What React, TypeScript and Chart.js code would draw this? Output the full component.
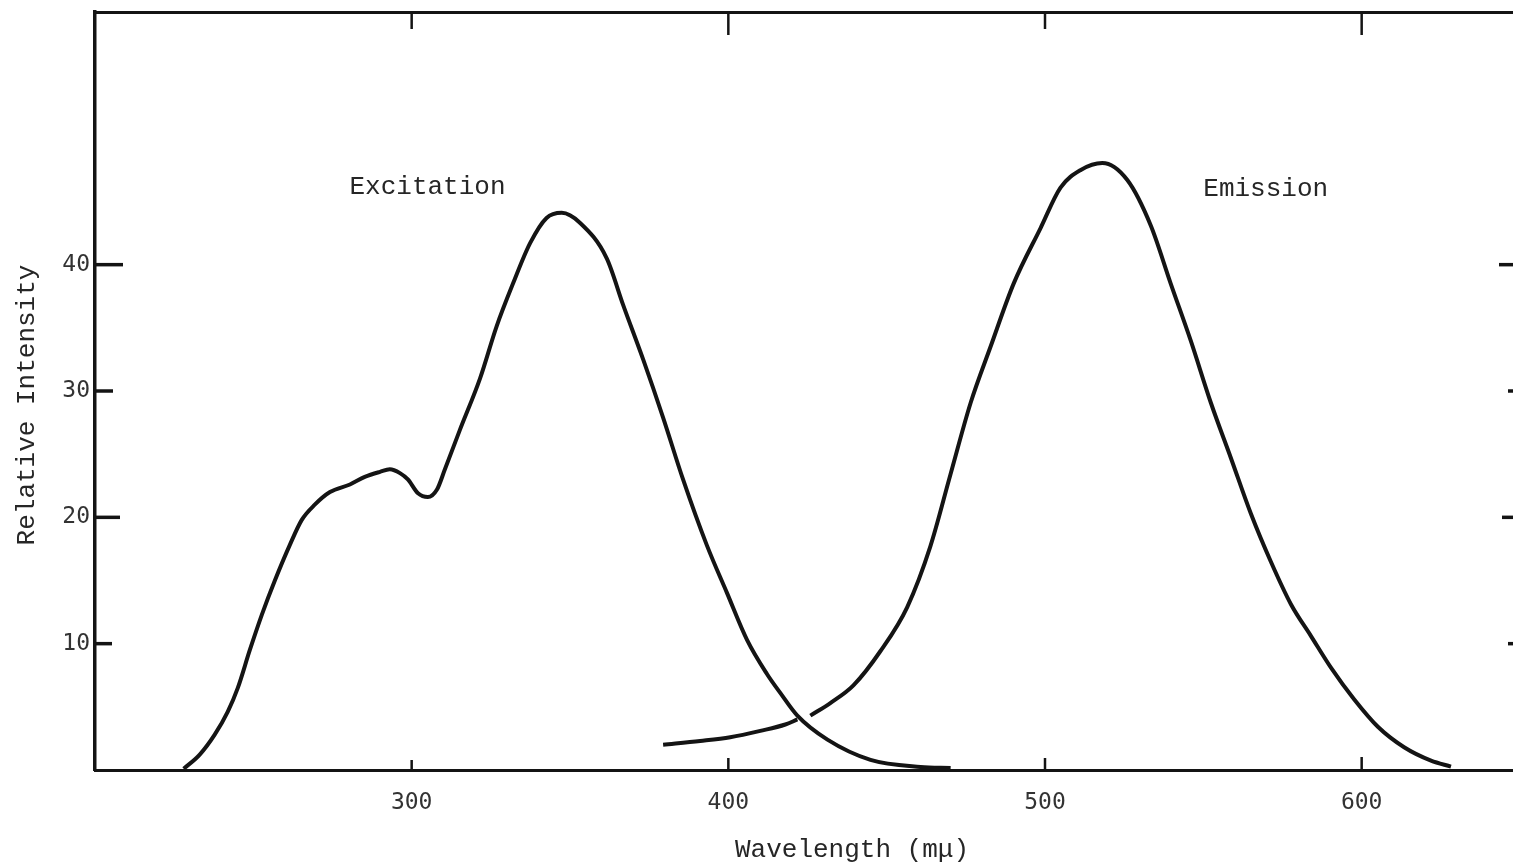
import React, { useEffect, useRef } from "react";
import { Chart, registerables } from "chart.js";

Chart.register(...registerables);

// ---- data ----
const excitationWavelengths = [
  228, 233, 237.8, 241.9, 245.1, 248.9, 252.7, 256.8, 261.5, 265.3, 269.4, 274.2,
  280.5, 285.2, 290, 293.1, 296.3, 298.8, 302, 305.1, 308, 310.5, 315.2, 321.6,
  326.8, 332, 337.4, 342.6, 347.4, 353.2, 361.6, 366.8, 373.1, 379.4, 385.7, 393.2,
  399.6, 405.9, 412.2, 416.4, 421.8, 431.3, 444.9, 460.7, 470.2,
];
const excitationIntensities = [
  0.1, 1.2, 2.8, 4.6, 6.5, 9.5, 12.3, 15.0, 17.8, 19.8, 21.0, 22.0,
  22.6, 23.2, 23.6, 23.8, 23.5, 23.0, 21.9, 21.6, 22.2, 23.8, 26.9, 31.0,
  35.1, 38.5, 41.7, 43.7, 44.1, 43.3, 40.5, 36.8, 32.5, 27.9, 23.0, 17.8,
  14.0, 10.3, 7.6, 6.1, 4.3, 2.4, 0.8, 0.24, 0.16,
];

// the emission trace is drawn in two strokes; the null marks the pen lift
const emissionWavelengths = [
  379.4, 391.1, 400.6, 410.1, 418.0, 421.8,
  423.8,
  425.9, 432.2, 439.5, 448.0, 456.5, 463.8, 470.1, 476.5, 482.8, 490.1, 498.6,
  504.9, 511.3, 518.1, 526.0, 533.4, 539.7, 546.0, 552.4, 558.7, 565.0, 571.3,
  577.7, 584.0, 590.3, 597.6, 605.2, 613.4, 621.9, 628.2,
];
const emissionIntensities: (number | null)[] = [
  2.0, 2.3, 2.6, 3.1, 3.6, 4.0,
  null,
  4.3, 5.3, 6.7, 9.4, 12.9, 17.7, 23.35, 29.05, 33.5, 38.5, 42.9,
  46.1, 47.5, 48.05, 46.7, 43.1, 38.5, 34.0, 29.05, 24.7, 20.3, 16.5,
  13.1, 10.6, 8.1, 5.6, 3.4, 1.8, 0.74, 0.27,
];

const xTickValues = [300, 400, 500, 600];
const yTickValues = [10, 20, 30, 40];
const seriesLabels = ["Excitation", "Emission"];
const xAxisTitle = "Wavelength (mμ)";
const yAxisTitle = "Relative Intensity";

// ---- styling ----
const INK = "#141414";
const TEXT = "#262626";
const LABEL_FONT = "'Liberation Mono', 'DejaVu Sans Mono', monospace";
const TICK_FONT = "'DejaVu Sans Mono', monospace";

const leftTickLen = [17, 25, 18, 28];
const rightTickLen = [12, 18, 12, 21];
const topTickLen = [17, 23, 17, 23];
const bottomTickLen = [10, 12, 12, 13];

const zeroPad = (s: any) => {
  s.paddingTop = 0;
  s.paddingBottom = 0;
  s.paddingLeft = 0;
  s.paddingRight = 0;
};

const decorPlugin = {
  id: "decor",
  afterDraw(chart: any) {
    const { ctx, chartArea: a, scales } = chart;
    const xs = scales.x;
    const ys = scales.y;
    const line = (x1: number, y1: number, x2: number, y2: number, w: number) => {
      ctx.lineWidth = w;
      ctx.beginPath();
      ctx.moveTo(x1, y1);
      ctx.lineTo(x2, y2);
      ctx.stroke();
    };
    ctx.save();
    ctx.strokeStyle = INK;
    ctx.lineCap = "butt";
    yTickValues.forEach((v, i) => {
      const py = ys.getPixelForValue(v);
      line(a.left, py, a.left + leftTickLen[i], py, 3.5);
      line(a.right, py, a.right - rightTickLen[i], py, 3.5);
    });
    xTickValues.forEach((v, i) => {
      const px = xs.getPixelForValue(v);
      line(px, a.top, px, a.top + topTickLen[i], 2.5);
      line(px, a.bottom, px, a.bottom - bottomTickLen[i], 2.5);
    });

    ctx.fillStyle = TEXT;
    ctx.font = `26px ${LABEL_FONT}`;
    ctx.textAlign = "center";
    ctx.textBaseline = "middle";
    ctx.fillText(seriesLabels[0], xs.getPixelForValue(305), ys.getPixelForValue(46.1));
    ctx.fillText(seriesLabels[1], xs.getPixelForValue(569.7), ys.getPixelForValue(46.0));

    ctx.fillText(xAxisTitle, 852, 850);
    ctx.translate(27, 405);
    ctx.rotate(-Math.PI / 2);
    ctx.fillText(yAxisTitle, 0, 0);
    ctx.restore();
  },
};

export default function App() {
  const ref = useRef<HTMLCanvasElement>(null);

  useEffect(() => {
    const canvas = ref.current;
    if (!canvas) return;
    const chart = new Chart(canvas, {
      type: "line",
      data: {
        datasets: [
          {
            label: seriesLabels[0],
            data: excitationWavelengths.map((w, i) => ({ x: w, y: excitationIntensities[i] })),
            borderColor: INK,
            borderWidth: 4,
            pointRadius: 0,
            fill: false,
            cubicInterpolationMode: "monotone",
          },
          {
            label: seriesLabels[1],
            data: emissionWavelengths.map((w, i) => ({ x: w, y: emissionIntensities[i] })),
            borderColor: INK,
            borderWidth: 4,
            pointRadius: 0,
            fill: false,
            spanGaps: false,
            cubicInterpolationMode: "monotone",
          },
        ],
      } as any,
      options: {
        animation: false,
        responsive: false,
        devicePixelRatio: 1,
        layout: { padding: 0 },
        plugins: {
          legend: { display: false },
          tooltip: { enabled: false },
        },
        scales: {
          x: {
            type: "linear",
            position: "bottom",
            min: 200,
            max: 650,
            afterBuildTicks: (s: any) => {
              s.ticks = xTickValues.map((v) => ({ value: v }));
            },
            afterFit: (s: any) => {
              s.height = 95;
              zeroPad(s);
            },
            grid: { display: false, drawTicks: false },
            border: { display: true, width: 3, color: INK },
            ticks: {
              padding: 19,
              autoSkip: false,
              maxRotation: 0,
              color: "#333",
              font: { family: TICK_FONT, size: 23 },
            },
          },
          xTop: {
            type: "linear",
            position: "top",
            min: 200,
            max: 650,
            afterFit: (s: any) => {
              s.height = 12;
              zeroPad(s);
            },
            grid: { display: false, drawTicks: false },
            border: { display: true, width: 3, color: INK },
            ticks: { display: false },
          },
          y: {
            type: "linear",
            position: "left",
            min: 0,
            max: 60,
            afterBuildTicks: (s: any) => {
              s.ticks = yTickValues.map((v) => ({ value: v }));
            },
            afterFit: (s: any) => {
              s.width = 95;
              zeroPad(s);
            },
            grid: { display: false, drawTicks: false },
            border: { display: true, width: 3.5, color: INK },
            ticks: {
              padding: 5,
              color: "#333",
              font: { family: TICK_FONT, size: 23 },
            },
          },
          yRight: {
            type: "linear",
            position: "right",
            min: 0,
            max: 60,
            afterFit: (s: any) => {
              s.width = 2;
              zeroPad(s);
            },
            grid: { display: false, drawTicks: false },
            border: { display: true, width: 3, color: INK },
            ticks: { display: false },
          },
        },
      } as any,
      plugins: [decorPlugin],
    });
    return () => chart.destroy();
  }, []);

  return (
    <div
      style={{
        position: "fixed",
        left: 0,
        top: 0,
        width: 1513,
        height: 865,
        overflow: "hidden",
        background: "#fff",
      }}
    >
      <canvas ref={ref} width={1522} height={865} style={{ display: "block", width: 1522, height: 865 }} />
    </div>
  );
}
